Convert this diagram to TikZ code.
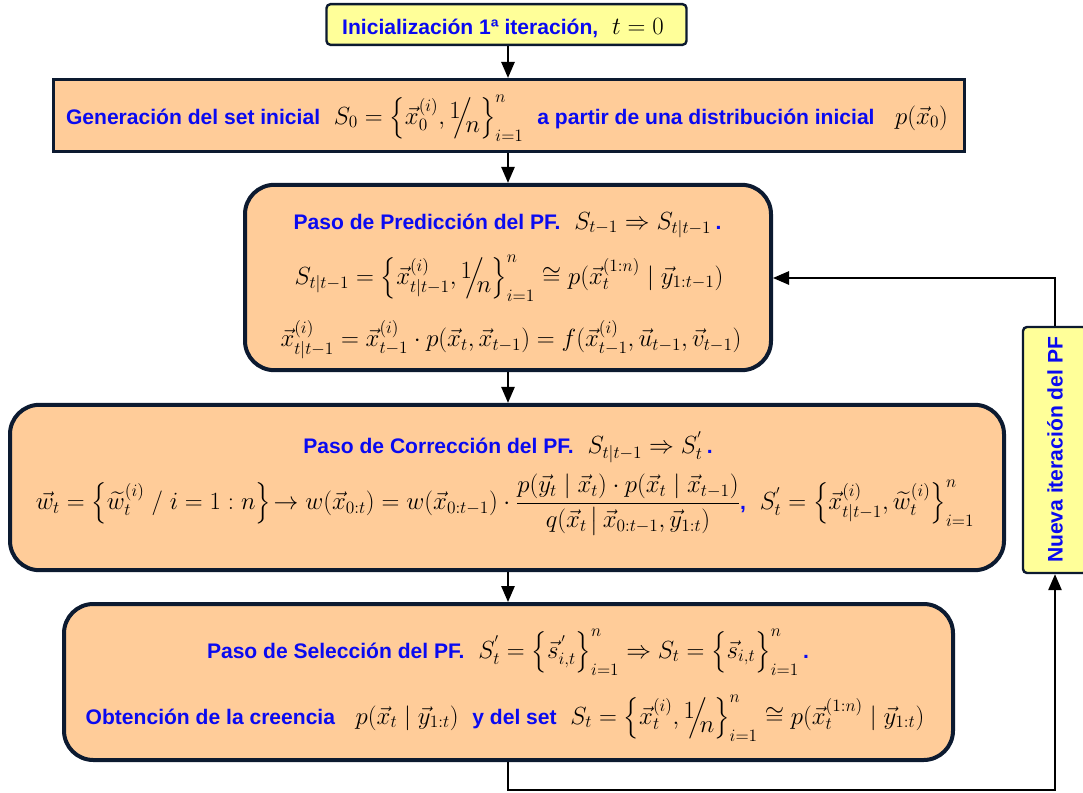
\RequirePackage{fix-cm}
\documentclass[tikz,border=0pt]{standalone}
\usepackage{amsmath}
\usepackage{fontspec}
\setmainfont{Liberation Sans}
\usetikzlibrary{arrows.meta}
\definecolor{tblue}{RGB}{10,10,240}
\definecolor{boxfill}{RGB}{255,204,153}
\definecolor{yfill}{RGB}{255,255,153}
\definecolor{navy}{RGB}{12,26,48}
\newcommand{\bt}[1]{{\fontsize{15.8}{18}\selectfont\bfseries\color{tblue}#1}}
\newcommand{\sfr}{\raisebox{0.45ex}{$1$}\mkern-5mu\Big/\mkern-5mu\raisebox{-0.6ex}{$n$}}
\newcommand{\vx}{\vec{x}}
\newcommand{\vy}{\vec{y}}
\newcommand{\lb}{\Bigl\{}
\newcommand{\rb}{\Bigr\}}
\begin{document}
\begin{tikzpicture}[x=0.75pt,y=-0.75pt,
  box/.style={draw=navy, fill=boxfill, line width=2.4pt, inner sep=0pt},
  rbox/.style={box, line width=3pt, rounded corners=22pt},
  ybox/.style={draw=navy, fill=yfill, line width=1.8pt, inner sep=0pt, rounded corners=3pt},
  txt/.style={inner sep=0pt, font=\fontsize{18.6}{22}\selectfont},
  conn/.style={line width=1.3pt, -{Triangle[length=12pt,width=10pt]}}]
\useasboundingbox (0,0) rectangle (1083,793);
\coordinate (col) at (508,0);
% boxes
\node[ybox, minimum width=270pt, minimum height=30.5pt] (init) at (506.5,24.5) {};
\node[box, minimum width=683pt, minimum height=54pt] (gen) at (509,115.5) {};
\node[rbox, minimum width=394.5pt, minimum height=139pt] (pred) at (508,277.5) {};
\node[rbox, minimum width=745.5pt, minimum height=124pt] (corr) at (507,487.5) {};
\node[rbox, minimum width=666.75pt, minimum height=117pt] (sel) at (508.5,682) {};
\node[ybox, minimum width=48pt, minimum height=184.5pt] (nueva) at (1055,450) {};
% texts
\node[txt] (init-t) at (503,28) {\bt{Inicialización 1ª iteración,}\; $t=0$};
\node[txt] (gen-t) at (507,118) {\bt{Generación del set inicial}\; $S_0=\lb\vx_0^{(i)},\sfr\rb_{i=1}^{n}$\; \bt{a partir de una distribución inicial}\;\; $p(\vx_0)$};
\node[txt] (pred-1) at (507.5,225) {\bt{Paso de Predicción del PF.}\; $S_{t-1}\Rightarrow S_{t|t-1}$\,\bt{.}};
\node[txt] (pred-2) at (509,278) {$S_{t|t-1}=\lb\vx_{t|t-1}^{(i)},\sfr\rb_{i=1}^{n}\cong p(\vx_t^{(1:n)}\mid\vy_{1:t-1})$};
\node[txt] (pred-3) at (511,340) {$\vx_{t|t-1}^{(i)}=\vx_{t-1}^{(i)}\cdot p(\vx_t,\vx_{t-1})=f(\vx_{t-1}^{(i)},\vec{u}_{t-1},\vec{v}_{t-1})$};
\node[txt] (corr-1) at (508,447) {\bt{Paso de Corrección del PF.}\; $S_{t|t-1}\Rightarrow S_t^{'}$\,\bt{.}};
\node[txt] (corr-2) at (505,505) {$\vec{w}_t=\lb\widetilde{w}_t^{(i)}\;/\;i=1:n\rb\!\rightarrow w(\vx_{0:t})=w(\vx_{0:t-1})\cdot\dfrac{p(\vy_t\mid\vx_t)\cdot p(\vx_t\mid\vx_{t-1})}{q(\vx_t\,\big|\,\vx_{0:t-1},\vy_{1:t})}$\bt{,}\; $S_t^{'}=\lb\vx_{t|t-1}^{(i)},\widetilde{w}_t^{(i)}\rb_{i=1}^{n}$};
\node[txt] (sel-1) at (508,652) {\bt{Paso de Selección del PF.}\; $S_t^{'}=\lb\vec{s}_{i,t}^{\,'}\rb_{i=1}^{n}\Rightarrow S_t=\lb\vec{s}_{i,t}\rb_{i=1}^{n}$\,\bt{.}};
\node[txt] (sel-2) at (505,718) {\bt{Obtención de la creencia}\;\; $p(\vx_t\mid\vy_{1:t})$\; \bt{y del set}\; $S_t=\lb\vx_t^{(i)},\sfr\rb_{i=1}^{n}\cong p(\vx_t^{(1:n)}\mid\vy_{1:t})$};
\node[inner sep=0pt, rotate=90] (nueva-t) at (nueva) {\bt{Nueva iteración del PF}};
% connectors
\draw[conn] (init.south -| col) -- (gen.north -| col);
\draw[conn] (gen.south -| col) -- (pred.north -| col);
\draw[conn] (pred.south -| col) -- (corr.north -| col);
\draw[conn] (corr.south -| col) -- (sel.north -| col);
\coordinate (b1) at (508,790);
\coordinate (t1) at (1055,278);
\draw[conn] (sel.south -| col) -- (b1) -| (nueva.south);
\draw[conn] (nueva.north) -- (t1) -- (t1 -| pred.east);
\end{tikzpicture}
\end{document}
